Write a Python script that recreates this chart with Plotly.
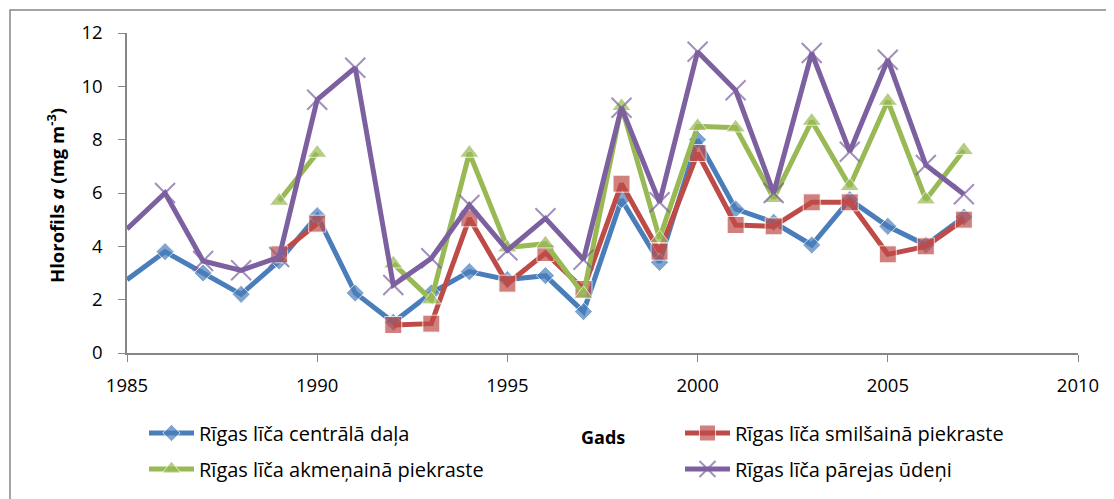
import plotly.graph_objects as go

years = list(range(1985, 2008))
central = [2.75, 3.8, 3.0, 2.2, 3.45, 5.15, 2.25, 1.15, 2.25, 3.05, 2.75, 2.9, 1.55,
           5.75, 3.4, 8.0, 5.4, 4.9, 4.05, 5.75, 4.75, 4.05, 5.1]
sandy = [None, None, None, None, 3.7, 4.85, None, 1.05, 1.1, 5.05, 2.6, 3.75, 2.4,
         6.35, 3.8, 7.5, 4.8, 4.75, 5.65, 5.65, 3.7, 4.0, 5.0]
rocky = [None, None, None, None, 5.7, 7.5, None, 3.35, 2.0, 7.5, 3.95, 4.1, 2.2,
         9.25, 4.3, 8.5, 8.45, 5.8, 8.7, 6.25, 9.45, 5.75, 7.6]
other = [4.65, 6.0, 3.45, 3.1, 3.6, 9.5, 10.7, 2.55, 3.55, 5.55, 3.85, 5.05, 3.5,
         9.2, 5.65, 11.3, 9.85, 6.0, 11.25, 7.55, 11.0, 7.05, 5.95]

names = ["Rīgas līča centrālā daļa", "Rīgas līča smilšainā piekraste",
         "Rīgas līča akmeņainā piekraste", "Rīgas līča pārejas ūdeņi"]
x_ticks = [1985, 1990, 1995, 2000, 2005, 2010]
y_ticks = [0, 2, 4, 6, 8, 10, 12]

FONT = "Open Sans"
OFF = 8  # the page body adds an 8px margin; targets below are in page pixels
# plot area in page pixels: x 127..1078, y 33..353
L, R, T, B = 127 - OFF, 1078 - OFF, 33 - OFF, 353 - OFF
PW, PH = R - L, B - T


def px(xp):
    return (xp - OFF - L) / PW


def py(yp):
    return (B - (yp - OFF)) / PH


series = [
    (central, names[0], "#4A7EBB", "diamond", 14, "legend", (144, 433)),
    (sandy, names[1], "#BE4B48", "square", 17, "legend2", (680, 433)),
    (rocky, names[2], "#98B954", "triangle-up", 17, "legend3", (144, 469)),
    (other, names[3], "#7D60A0", "x-thin", 20, "legend4", (680, 469)),
]

fig = go.Figure()
legends = {}
for vals, name, color, sym, size, leg, (lx, ly) in series:
    # the 1985 point sits on the axis edge where the reference shows no marker
    sizes = [0 if (y == 1985) else size for y in years]
    marker = dict(symbol=sym, size=sizes, color=color)
    if sym == "x-thin":
        marker["line"] = dict(color=color, width=2)
    fig.add_trace(go.Scatter(
        x=years, y=vals, name=name, mode="lines+markers",
        line=dict(color=color, width=5), marker=marker,
        connectgaps=False, legend=leg, cliponaxis=True,
    ))
    legends[leg] = dict(x=px(lx), y=py(ly), xanchor="left", yanchor="middle",
                        font=dict(size=20, family=FONT, color="#000000"),
                        bgcolor="rgba(0,0,0,0)", borderwidth=0, itemwidth=45)

fig.update_layout(
    width=1114, height=499,
    margin=dict(l=L, r=1114 - R, t=T, b=499 - B, autoexpand=False),
    paper_bgcolor="white", plot_bgcolor="white",
    font=dict(family=FONT, size=18.5, color="#000000"),
    xaxis=dict(range=[1985, 2010], tickvals=x_ticks, ticks="outside", ticklen=7,
               tickcolor="#868686", showline=True, linecolor="#868686", linewidth=1.5,
               showgrid=False, zeroline=False, ticklabelstandoff=8),
    yaxis=dict(range=[0, 12], tickvals=y_ticks, ticks="outside", ticklen=7,
               tickcolor="#868686", showline=True, linecolor="#868686", linewidth=1.5,
               showgrid=False, zeroline=False, ticklabelstandoff=12),
    showlegend=True,
    **legends,
)

fig.add_annotation(text="<b>Gads</b>", xref="paper", yref="paper", x=px(603), y=py(437),
                   showarrow=False, font=dict(size=18), xanchor="center", yanchor="middle")
fig.add_annotation(text="<b>Hlorofils <i>a</i> (mg m<sup>-3</sup>)</b>", xref="paper",
                   yref="paper", x=px(55), y=py(196), textangle=-90, showarrow=False,
                   font=dict(size=18.5), xanchor="center", yanchor="middle")
fig.add_shape(type="rect", xref="paper", yref="paper", x0=px(10), y0=py(10), x1=px(1200),
              y1=py(600), line=dict(color="#868686", width=1.5), fillcolor="rgba(0,0,0,0)",
              layer="below")

fig.write_html("out.html")
